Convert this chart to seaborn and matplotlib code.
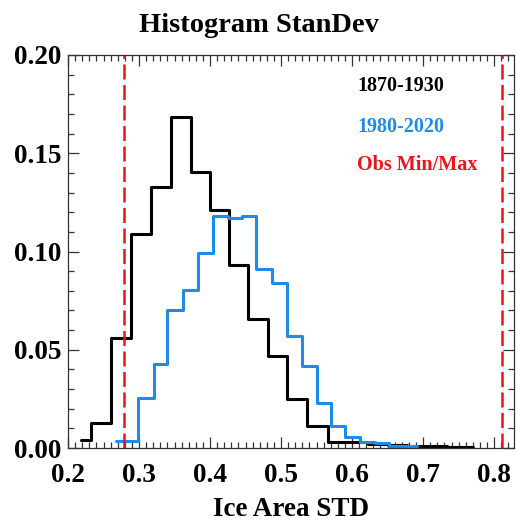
import numpy as np
import pandas as pd
import matplotlib
matplotlib.use("Agg")
import matplotlib.pyplot as plt
from matplotlib.ticker import MultipleLocator
import seaborn as sns

# ---- data ----
black_edges = [0.218, 0.232, 0.261, 0.289, 0.317, 0.345, 0.373, 0.400, 0.427, 0.454,
               0.481, 0.509, 0.537, 0.566, 0.594, 0.622, 0.650, 0.678, 0.706, 0.734, 0.770]
black_heights = [0.004, 0.0128, 0.056, 0.109, 0.133, 0.1685, 0.1406, 0.1212, 0.0933, 0.0658,
                 0.047, 0.0251, 0.0112, 0.0032, 0.003, 0.002, 0.0015, 0.001, 0.0008, 0.0004]

blue_edges = [0.268, 0.299, 0.321, 0.340, 0.362, 0.383, 0.404, 0.425, 0.445, 0.465,
              0.487, 0.508, 0.529, 0.550, 0.570, 0.590, 0.611, 0.632, 0.652, 0.672, 0.692]
blue_heights = [0.0036, 0.0255, 0.0426, 0.070, 0.0802, 0.0991, 0.1179, 0.1171, 0.1183, 0.0912,
                0.0841, 0.0571, 0.0418, 0.0227, 0.0112, 0.0054, 0.0032, 0.0024, 0.0012, 0.0008]

obs_minmax = [0.279, 0.811]

series_labels = ["1870-1930", "1980-2020", "Obs Min/Max"]
x_ticks = [0.2, 0.3, 0.4, 0.5, 0.6, 0.7, 0.8]
y_ticks = [0.00, 0.05, 0.10, 0.15, 0.20]
title = "Histogram StanDev"
xlabel = "Ice Area STD"

BLACK = "#000000"
BLUE = "#1f8be8"
RED = "#e8161c"

sns.set_theme(style="ticks")
plt.rcParams["font.family"] = ["Liberation Serif", "DejaVu Serif"]
plt.rcParams["font.weight"] = "bold"
plt.rcParams["text.color"] = "black"
plt.rcParams["axes.labelcolor"] = "black"
plt.rcParams["xtick.labelcolor"] = "black"
plt.rcParams["ytick.labelcolor"] = "black"

fig = plt.figure(figsize=(5.16, 5.26), dpi=100)
ax = fig.add_axes([68 / 516, 1 - 448 / 526, (514 - 68) / 516, (448 - 55) / 526])

def centers(edges):
    e = np.asarray(edges)
    return (e[:-1] + e[1:]) / 2

df_black = pd.DataFrame({"x": centers(black_edges), "w": black_heights})
df_blue = pd.DataFrame({"x": centers(blue_edges), "w": blue_heights})

sns.histplot(data=df_black, x="x", weights="w", bins=black_edges, element="step",
             fill=False, color=BLACK, linewidth=2.2, ax=ax)
sns.histplot(data=df_blue, x="x", weights="w", bins=blue_edges, element="step",
             fill=False, color=BLUE, linewidth=2.2, ax=ax)

for v in obs_minmax:
    ax.axvline(v, color=RED, linewidth=1.8, dashes=(6, 2.2))

ax.set_xlim(0.2, 0.828)
ax.set_ylim(0.0, 0.2)
ax.set_xticks(x_ticks)
ax.set_yticks(y_ticks)
ax.set_xticklabels([f"{t:.1f}" for t in x_ticks])
ax.set_yticklabels([f"{t:.2f}" for t in y_ticks])
ax.xaxis.set_minor_locator(MultipleLocator(0.01))
ax.yaxis.set_minor_locator(MultipleLocator(0.01))
ax.tick_params(which="both", direction="in", top=True, right=True, color="#333333", width=0.9)
ax.tick_params(which="major", length=8)
ax.tick_params(which="minor", length=4)
ax.tick_params(axis="x", which="major", pad=11, labelsize=19.5)
ax.tick_params(axis="y", which="major", pad=5, labelsize=19.5)
for lbl in ax.get_xticklabels() + ax.get_yticklabels():
    lbl.set_fontweight("bold")
for s in ax.spines.values():
    s.set_color("#333333")
    s.set_linewidth(0.9)

ax.set_ylabel("")
ax.set_xlabel(xlabel, fontsize=19.5, fontweight="bold", labelpad=6)

fig.text(0.502, 1 - 25 / 526, title, ha="center", va="center", fontsize=20.5, fontweight="bold")

for lab, col, ypix in zip(series_labels, [BLACK, BLUE, RED], [86, 127, 165]):
    fig.text(357 / 516, 1 - ypix / 526, lab, color=col, ha="left", va="center",
             fontsize=14.5, fontweight="bold")

fig.savefig("out.png", dpi=100, facecolor="white")
